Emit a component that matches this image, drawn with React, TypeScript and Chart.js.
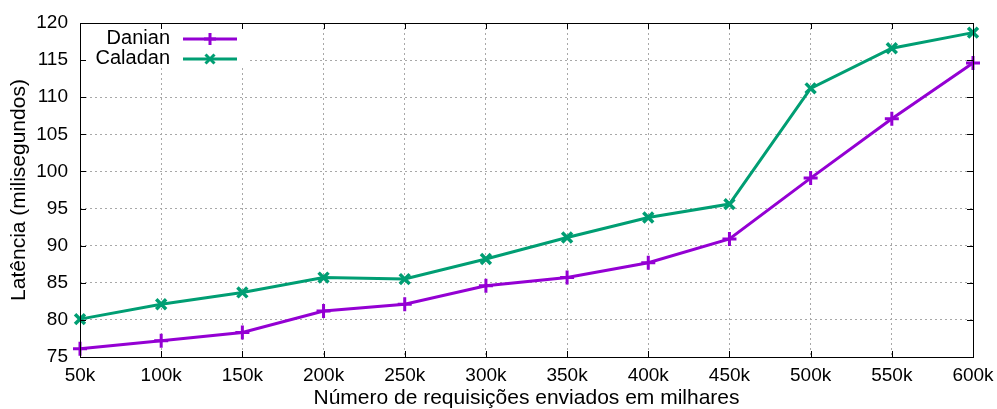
import React, { useEffect, useRef } from "react";
import { Chart, registerables } from "chart.js";

Chart.register(...registerables);

const categories = ["50k", "100k", "150k", "200k", "250k", "300k", "350k", "400k", "450k", "500k", "550k", "600k"];
const danian = [76.1, 77.2, 78.3, 81.2, 82.1, 84.6, 85.7, 87.7, 90.9, 99.1, 107.1, 114.6];
const caladan = [80.1, 82.1, 83.7, 85.7, 85.5, 88.2, 91.1, 93.8, 95.6, 111.2, 116.6, 118.7];
const yTicks = [75, 80, 85, 90, 95, 100, 105, 110, 115, 120];

const FONT = "'Liberation Sans', Arial, sans-serif";
const VIOLET = "#9400D3";
const GREEN = "#009E73";

const framePlugin = {
  id: "gnuFrame",
  beforeDatasetsDraw(chart: any) {
    const { ctx, chartArea: a } = chart;
    ctx.save();
    ctx.fillStyle = "#fff";
    ctx.fillRect(a.left + 1, a.top + 1, 167, 44);
    ctx.restore();
  },
  afterDatasetsDraw(chart: any) {
    const { ctx, chartArea: a, scales } = chart;
    ctx.save();
    ctx.strokeStyle = "#000";
    ctx.lineWidth = 1;
    const tl = 6;
    ctx.beginPath();
    scales.x.ticks.forEach((_: any, i: number) => {
      const x = Math.round(scales.x.getPixelForTick(i)) + 0.5;
      ctx.moveTo(x, a.bottom);
      ctx.lineTo(x, a.bottom - tl);
      ctx.moveTo(x, a.top);
      ctx.lineTo(x, a.top + tl);
    });
    scales.y.ticks.forEach((_: any, i: number) => {
      const y = Math.round(scales.y.getPixelForTick(i)) + 0.5;
      ctx.moveTo(a.left, y);
      ctx.lineTo(a.left + tl, y);
      ctx.moveTo(a.right, y);
      ctx.lineTo(a.right - tl, y);
    });
    ctx.stroke();
    ctx.strokeRect(Math.round(a.left) + 0.5, Math.round(a.top) + 0.5, Math.round(a.right - a.left), Math.round(a.bottom - a.top));

    // legend
    const entries = [
      { label: "Danian", color: VIOLET, style: "cross" },
      { label: "Caladan", color: GREEN, style: "crossRot" },
    ];
    ctx.font = `20px ${FONT}`;
    ctx.textAlign = "right";
    ctx.textBaseline = "middle";
    entries.forEach((e, i) => {
      const y = a.top + 15 + i * 20;
      ctx.fillStyle = "#000";
      ctx.fillText(e.label, a.left + 90, y);
      ctx.strokeStyle = e.color;
      ctx.lineWidth = 3;
      ctx.beginPath();
      ctx.moveTo(a.left + 103, y + 1);
      ctx.lineTo(a.left + 157, y + 1);
      ctx.stroke();
      ctx.lineWidth = 3;
      ctx.beginPath();
      const cx = a.left + 130;
      const cy = y + 1;
      const r = 6;
      if (e.style === "cross") {
        ctx.moveTo(cx - r, cy); ctx.lineTo(cx + r, cy);
        ctx.moveTo(cx, cy - r); ctx.lineTo(cx, cy + r);
      } else {
        const d = r * 0.75;
        ctx.moveTo(cx - d, cy - d); ctx.lineTo(cx + d, cy + d);
        ctx.moveTo(cx - d, cy + d); ctx.lineTo(cx + d, cy - d);
      }
      ctx.stroke();
    });
    ctx.restore();
  },
};

export default function App() {
  const ref = useRef<HTMLCanvasElement>(null);
  useEffect(() => {
    document.body.style.margin = "0";
    const chart = new Chart(ref.current!, {
      type: "line",
      data: {
        labels: categories,
        datasets: [
          {
            label: "Danian",
            data: danian,
            borderColor: VIOLET,
            backgroundColor: VIOLET,
            borderWidth: 3,
            pointStyle: "cross",
            pointRadius: 7,
            pointBorderWidth: 3,
            pointBorderColor: VIOLET,
            tension: 0,
          },
          {
            label: "Caladan",
            data: caladan,
            borderColor: GREEN,
            backgroundColor: GREEN,
            borderWidth: 3,
            pointStyle: "crossRot",
            pointRadius: 7,
            pointBorderWidth: 3.5,
            pointBorderColor: GREEN,
            tension: 0,
          },
        ],
      },
      options: {
        animation: false,
        responsive: false,
        maintainAspectRatio: false,
        layout: { padding: { top: 23, right: 24, left: 0, bottom: 0 } },
        plugins: { legend: { display: false }, tooltip: { enabled: false } },
        scales: {
          x: {
            type: "category",
            offset: false,
            afterFit(scale: any) {
              scale.height = 52;
              scale.paddingLeft = 0;
              scale.paddingRight = 0;
            },
            grid: { color: "#a8a8a8", drawTicks: false, lineWidth: 1 },
            border: { display: false, dash: [2, 3] },
            ticks: { color: "#000", font: { family: FONT, size: 19 }, padding: 7, maxRotation: 0, autoSkip: false },
            title: { display: true, text: "Número de requisições enviados em milhares", color: "#000", font: { family: FONT, size: 21 }, padding: { top: 0, bottom: -2 } },
          },
          y: {
            min: 75,
            max: 120,
            afterFit(scale: any) {
              scale.width = 80;
              scale.paddingTop = 0;
              scale.paddingBottom = 0;
            },
            afterBuildTicks(scale: any) { scale.ticks = yTicks.map((v) => ({ value: v })); },
            grid: { color: "#a8a8a8", drawTicks: false, lineWidth: 1 },
            border: { display: false, dash: [2, 3] },
            ticks: { color: "#000", font: { family: FONT, size: 19 }, padding: 12 },
            title: { display: true, text: "Latência (milisegundos)", color: "#000", font: { family: FONT, size: 21 }, padding: { top: 7, bottom: 0 } },
          },
        },
      },
      plugins: [framePlugin],
    });
    return () => chart.destroy();
  }, []);
  return (
    <div style={{ width: 997, height: 409, background: "#fff" }}>
      <canvas ref={ref} width={997} height={409} style={{ display: "block" }} />
    </div>
  );
}
